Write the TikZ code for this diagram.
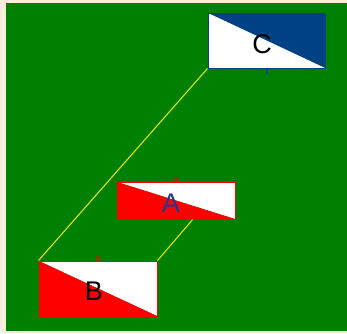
\documentclass[tikz,border=0pt]{standalone}
\usepackage{fontspec}
\setmainfont{Liberation Sans}
\usetikzlibrary{calc}
\definecolor{parch}{RGB}{247,238,220}
\definecolor{bggreen}{RGB}{0,128,0}
\definecolor{cblue}{RGB}{0,64,132}
\definecolor{ared}{RGB}{255,0,0}
\definecolor{atext}{RGB}{30,60,140}
\definecolor{linkyel}{RGB}{225,225,0}
\tikzset{
  flagbox/.style={rectangle, inner sep=0pt, minimum width=118pt},
  flaglabel/.style={font=\fontsize{27}{27}\selectfont},
  redflag/.style={flagbox, draw=ared, line width=1pt,
    path picture={
      \fill[white] (path picture bounding box.north west) -- (path picture bounding box.north east) -- (path picture bounding box.south east) -- cycle;
      \fill[ared] (path picture bounding box.north west) -- (path picture bounding box.south east) -- (path picture bounding box.south west) -- cycle;}},
  blueflag/.style={flagbox, draw=cblue, line width=1pt,
    path picture={
      \fill[cblue] (path picture bounding box.north west) -- (path picture bounding box.north east) -- (path picture bounding box.south east) -- cycle;
      \fill[white] (path picture bounding box.north west) -- (path picture bounding box.south east) -- (path picture bounding box.south west) -- cycle;}},
  link/.style={draw=linkyel, line width=1.1pt},
  tick/.style={line width=2pt}
}
\begin{document}
\begin{tikzpicture}[x=1pt,y=-1pt]
\useasboundingbox (0,0) rectangle (347,333);
\fill[parch] (0,0) rectangle (347,333);
\fill[bggreen] (6,3) rectangle (347,331);
\node[blueflag, minimum width=117pt, minimum height=55pt] (C) at (266.5,40.5) {};
\node[redflag, minimum height=37pt] (A) at (176,200.5) {};
\node[redflag, minimum height=55pt] (B) at (98,288.5) {};
\node[flaglabel, text=black] (Ct) at (262,44) {C};
\node[flaglabel, text=atext] (At) at (171,203) {A};
\node[flaglabel, text=black] (Bt) at (94,291) {B};
\draw[tick, cblue] (C.south) -- ++(0,5);
\draw[tick, ared] (A.north) -- ++(0,-5);
\draw[tick, ared] (B.north) -- ++(0,-5);
\coordinate (Aout) at ($(A.south west)!0.64!(A.south east)$);
\draw[link] (C.south west) -- (B.north west);
\draw[link] (Aout) -- (B.north east);
\end{tikzpicture}
\end{document}
